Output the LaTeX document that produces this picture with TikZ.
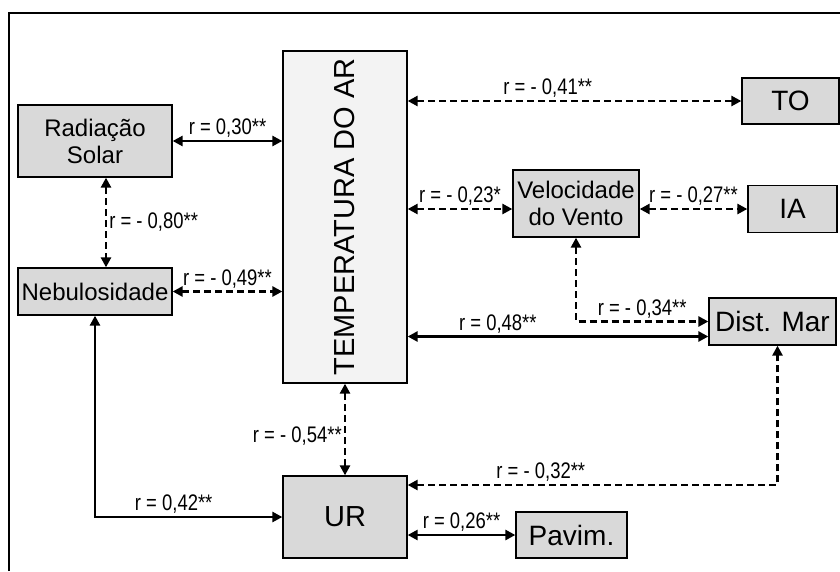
\documentclass[tikz,border=0pt]{standalone}
\usepackage{fontspec}
\setmainfont{Liberation Sans}
\newfontfamily\rotulofont[FakeStretch=0.82]{Liberation Sans}
\usetikzlibrary{arrows.meta,positioning}
\definecolor{cinza}{RGB}{217,217,217}
\definecolor{cinzaclaro}{RGB}{243,243,243}

\begin{document}
\begin{tikzpicture}[
    x=1pt, y=-1pt,
    % Estilos
    caixa/.style={rectangle, draw=black, line width=1.3pt, fill=cinza, inner sep=1pt, align=center, font=\fontsize{24}{27}\selectfont},
    caixag/.style={caixa, font=\fontsize{28}{30}\selectfont},
    central/.style={caixa, fill=cinzaclaro, font=\fontsize{29}{30}\selectfont},
    seta/.style={line width=2.6pt, {Triangle[length=10pt,width=10pt]}-{Triangle[length=10pt,width=10pt]}},
    tracejada/.style={seta, dash pattern=on 7pt off 4pt},
    rotulo/.style={font=\rotulofont\fontsize{22.5}{23}\selectfont, inner sep=2pt}
]
    \useasboundingbox (0,0) rectangle (840,571);

    % Moldura
    \draw[line width=2pt] (9,571) -- (9,13) -- (840,13);

    % Nos
    \node (temp) [central, minimum width=124pt, minimum height=332pt] at (345,217) {\rotatebox{90}{TEMPERATURA DO AR}};
    \node (rad) [caixa, minimum width=154pt, minimum height=72pt] at (95,141) {Radiação\\Solar};
    \node (neb) [caixa, minimum width=154pt, minimum height=47pt] at (95,291.5) {Nebulosidade};
    \node (ur) [caixa, font=\fontsize{29}{30}\selectfont, minimum width=124pt, minimum height=82pt] at (345,517) {UR};
    \node (to) [caixag, minimum width=97pt, minimum height=46pt] at (790.5,101) {TO};
    \node (vel) [caixa, minimum width=126pt, minimum height=67pt] at (576,203.5) {Velocidade\\do Vento};
    \node (ia) [caixag, minimum width=89pt, minimum height=47pt] at (792.5,209) {IA};
    \node (dist) [caixag, minimum width=127pt, minimum height=47pt] at (772.5,321.5) {Dist. Mar};
    \node (pav) [caixag, minimum width=111pt, minimum height=46pt] at (571.5,535) {Pavim.};

    % Correlacoes
    \draw[seta] (rad.east) -- node[rotulo, above] {r = 0,30**} (rad.east -| temp.west);
    \draw[tracejada] ([xshift=11pt]rad.south) -- node[rotulo, right] {r = - 0,80**} ([xshift=11pt]neb.north);
    \draw[tracejada] (neb.east) -- node[rotulo, above] {r = - 0,49**} (neb.east -| temp.west);
    \draw[tracejada] (temp.east |- to.west) -- node[rotulo, above, pos=0.42] {r = - 0,41**} (to.west);
    \draw[tracejada] (temp.east |- ia.west) -- node[rotulo, above] {r = - 0,23*} (vel.west |- ia.west);
    \draw[tracejada] (vel.east |- ia.west) -- node[rotulo, above] {r = - 0,27**} (ia.west);
    \draw[tracejada] (vel.south) |- node[rotulo, above, pos=0.75] {r = - 0,34**} (dist.west);
    \draw[seta] ([yshift=-15pt]dist.west -| temp.east) -- node[rotulo, above, pos=0.3] {r = 0,48**} ([yshift=-15pt]dist.west);
    \draw[tracejada] (temp) -- node[rotulo, left, pos=0.57] {r = - 0,54**} (ur);
    \draw[seta] (neb.south) |- node[rotulo, above, pos=0.71] {r = 0,42**} (ur.west);
    \draw[tracejada] ([yshift=32pt]ur.east) -| node[rotulo, above, pos=0.18] {r = - 0,32**} ([xshift=5pt]dist.south);
    \draw[seta] (ur.east |- pav.west) -- node[rotulo, above] {r = 0,26**} (pav.west);

\end{tikzpicture}
\end{document}
